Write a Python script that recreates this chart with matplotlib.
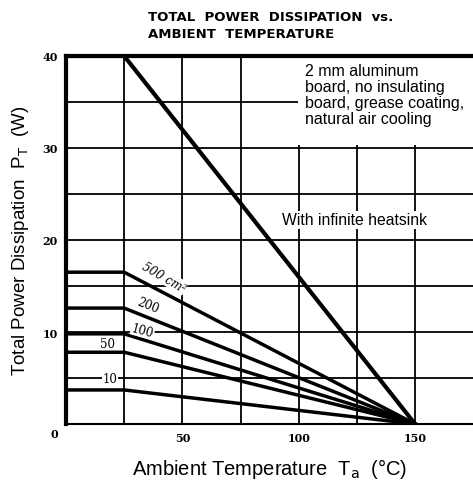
import matplotlib
matplotlib.use("Agg")
import matplotlib.pyplot as plt
from matplotlib.patches import Rectangle

# Data
temps = [0, 25, 150]
curve_names = ["infinite", "500", "200", "100", "50", "10"]
p_infinite = [40, 40, 0]
p_500 = [16.5, 16.5, 0]
p_200 = [12.6, 12.6, 0]
p_100 = [9.8, 9.8, 0]
p_50 = [7.8, 7.8, 0]
p_10 = [3.7, 3.7, 0]
xticks = [50, 100, 150]
yticks = [10, 20, 30, 40]

fig = plt.figure(figsize=(4.73, 4.85), dpi=100)
ax = fig.add_axes([0.1395, 0.1237, 0.861, 0.7588])
ax.set_xlim(0, 175)
ax.set_ylim(0, 40)

for x in [25, 50, 75, 100, 125, 150]:
    ax.axvline(x, color="black", lw=1.3, zorder=1)
for y in [5, 10, 15, 20, 25, 30, 35]:
    ax.axhline(y, color="black", lw=1.3, zorder=1)

ax.plot(temps, p_infinite, color="black", lw=3.0, zorder=3, solid_capstyle="butt")
for series in [p_500, p_200, p_100, p_50, p_10]:
    ax.plot(temps, series, color="black", lw=2.5, zorder=3)

for s in ["left", "top"]:
    ax.spines[s].set_linewidth(3)
ax.spines["bottom"].set_linewidth(1.5)
ax.spines["right"].set_visible(False)

ax.set_xticks(xticks)
ax.set_xticklabels([str(v) for v in xticks], family="DejaVu Serif", fontweight="bold", fontsize=8)
ax.set_yticks(yticks)
ax.set_yticklabels([str(v) for v in yticks], family="DejaVu Serif", fontweight="bold", fontsize=8)
ax.tick_params(length=0, pad=6)
ax.text(-3.5, -1.0, "0", ha="right", va="center", family="DejaVu Serif", fontweight="bold", fontsize=8)

# Text box
ax.add_patch(Rectangle((99.5, 30.3), 80, 9.6, facecolor="white", edgecolor="none", zorder=2))
ax.text(102.5, 39.2, "2 mm aluminum\nboard, no insulating\nboard, grease coating,\nnatural air cooling",
        ha="left", va="top", family="Liberation Sans", fontsize=11.5, linespacing=1.07, zorder=4)

ax.text(124, 22.2, "With infinite heatsink", ha="center", va="center", family="Liberation Sans",
        fontsize=11.3, zorder=4, bbox=dict(facecolor="white", edgecolor="none", pad=1))

lab = dict(family="DejaVu Serif", fontsize=8.5, zorder=4,
           bbox=dict(facecolor="white", edgecolor="none", pad=0.5))
ax.text(42, 16.0, "500 cm²", rotation=-30, ha="center", va="center", style="italic", **lab)
ax.text(35, 12.9, "200", rotation=-22, ha="center", va="center", **lab)
ax.text(33, 10.2, "100", rotation=-15, ha="center", va="center", **lab)
ax.text(18, 8.8, "50", ha="center", va="center", **lab)
ax.text(19, 4.9, "10", ha="center", va="center", **lab)

fig.text(0.313, 0.978, "TOTAL  POWER  DISSIPATION  vs.\nAMBIENT  TEMPERATURE", ha="left", va="top",
         family="DejaVu Sans", fontweight="bold", fontsize=9.5, linespacing=1.4)

ax.set_xlabel("Ambient Temperature  T$_{\\mathrm{a}}$  (°C)", family="Liberation Sans", fontsize=14.5, labelpad=9)
ax.set_ylabel("Total Power Dissipation  P$_{\\mathrm{T}}$  (W)", family="Liberation Sans", fontsize=13.5, labelpad=8)

fig.savefig("out.png", dpi=100)
